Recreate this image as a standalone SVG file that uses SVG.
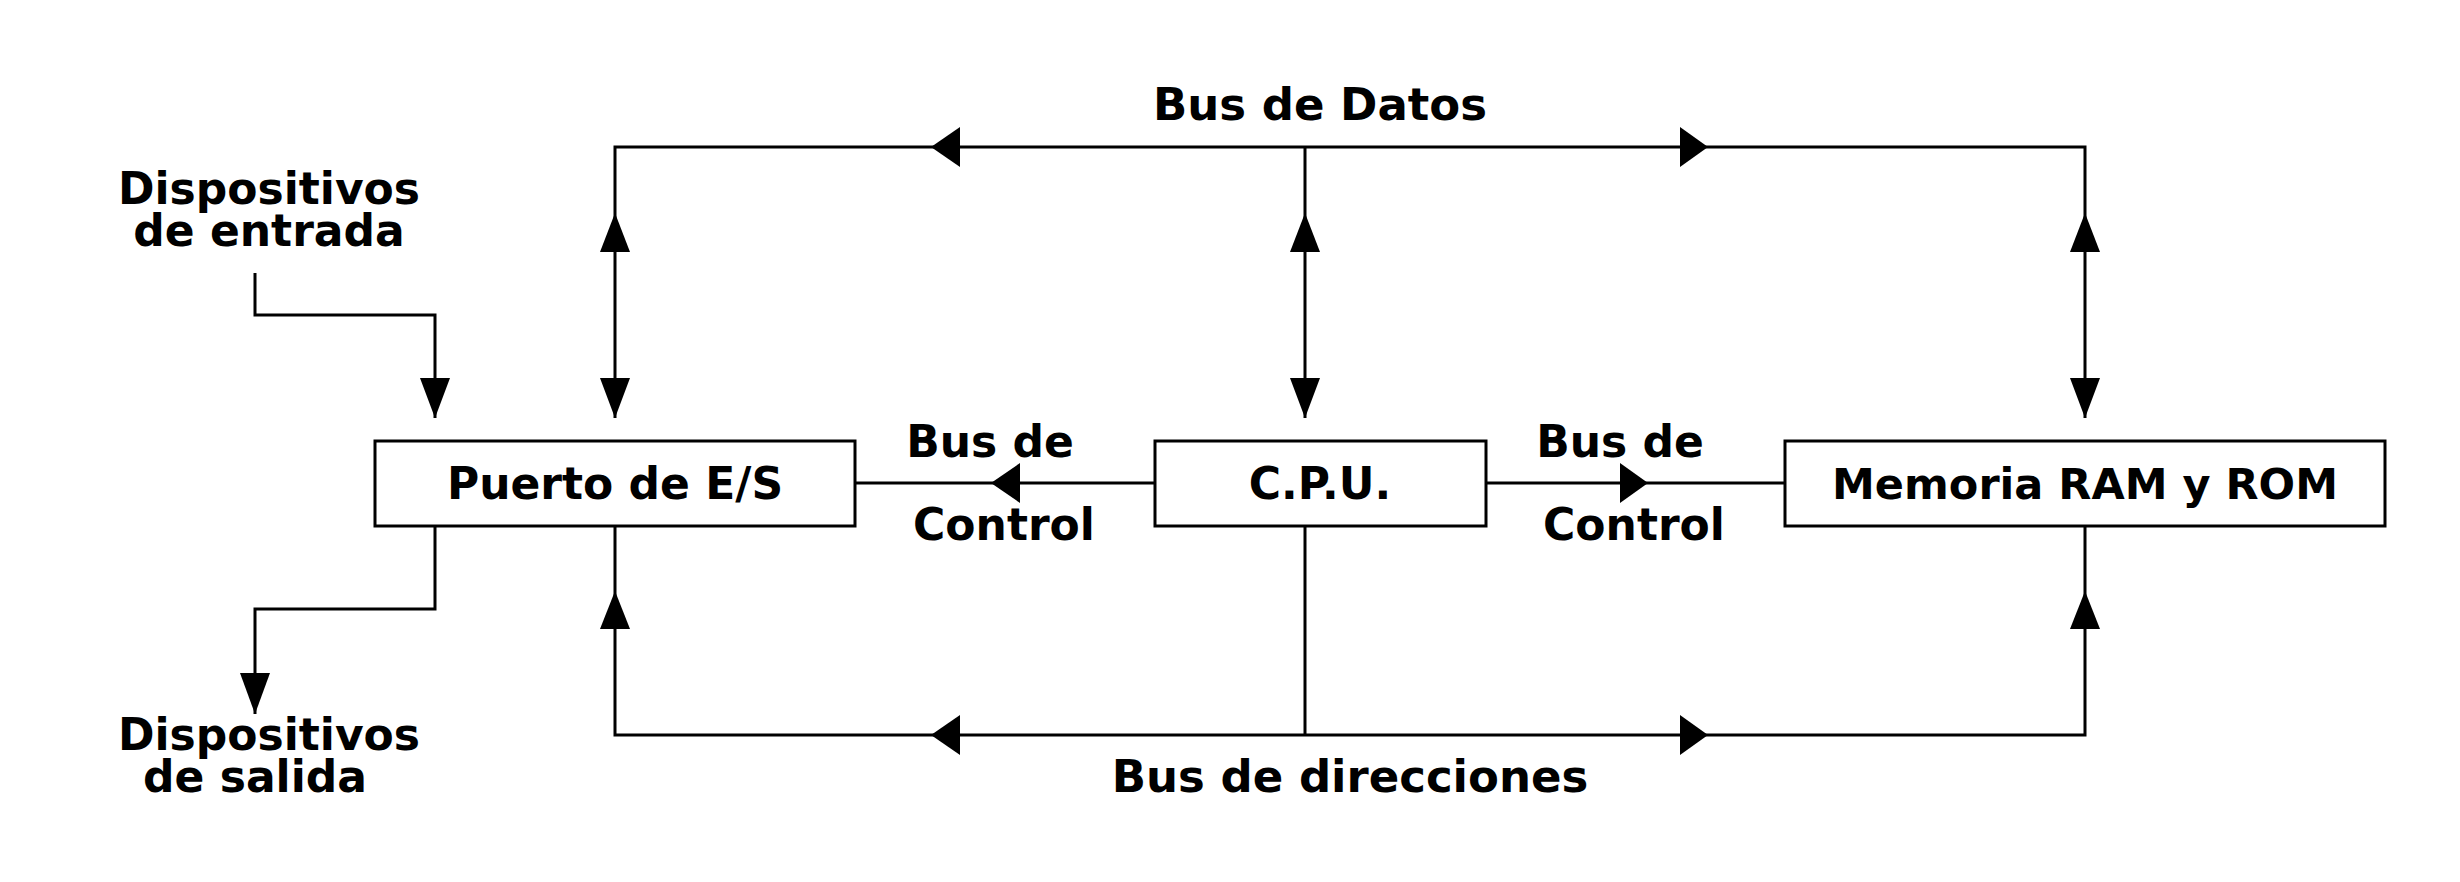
<svg xmlns="http://www.w3.org/2000/svg" width="2460" height="882" viewBox="0 0 2460 882">
<style>
.ln{fill:none;stroke:#000;stroke-width:3;stroke-linejoin:miter}
.box{fill:#fff;stroke:#000;stroke-width:3}
.ah{fill:#000;stroke:none}
text{font-family:"DejaVu Sans",sans-serif;font-weight:bold;font-size:44px;fill:#000;text-anchor:middle}
.sm{font-size:43px}
.lg{font-size:45px}
</style>
<rect width="2460" height="882" fill="#fff"/>
<g id="connectors">
  <polyline class="ln" points="615,418 615,147 2085,147 2085,418"/>
  <line class="ln" x1="1305" y1="147" x2="1305" y2="418"/>
  <polyline class="ln" points="615,526 615,735 2085,735 2085,526"/>
  <line class="ln" x1="1305" y1="526" x2="1305" y2="735"/>
  <line class="ln" x1="855" y1="483" x2="1155" y2="483"/>
  <line class="ln" x1="1486" y1="483" x2="1785" y2="483"/>
  <polyline class="ln" points="255,273 255,315 435,315 435,418"/>
  <polyline class="ln" points="435,526 435,609 255,609 255,714"/>
  <polygon class="ah" points="931,147 960,127 960,167"/>
  <polygon class="ah" points="1708,147 1680,127 1680,167"/>
  <polygon class="ah" points="931,735 960,715 960,755"/>
  <polygon class="ah" points="1708,735 1680,715 1680,755"/>
  <polygon class="ah" points="991,483 1020,463 1020,503"/>
  <polygon class="ah" points="1648,483 1620,463 1620,503"/>
  <polygon class="ah" points="615,213 600,252 630,252"/>
  <polygon class="ah" points="615,418 600,378 630,378"/>
  <polygon class="ah" points="1305,213 1290,252 1320,252"/>
  <polygon class="ah" points="1305,418 1290,378 1320,378"/>
  <polygon class="ah" points="2085,213 2070,252 2100,252"/>
  <polygon class="ah" points="2085,418 2070,378 2100,378"/>
  <polygon class="ah" points="615,591 600,629 630,629"/>
  <polygon class="ah" points="2085,591 2070,629 2100,629"/>
  <polygon class="ah" points="435,418 420,378 450,378"/>
  <polygon class="ah" points="255,714 240,673 270,673"/>
</g>
<g id="puerto">
  <rect class="box" x="375" y="441" width="480" height="85"/>
  <text x="615" y="499">Puerto de E/S</text>
</g>
<g id="cpu">
  <rect class="box" x="1155" y="441" width="331" height="85"/>
  <text x="1320" y="499">C.P.U.</text>
</g>
<g id="memoria">
  <rect class="box" x="1785" y="441" width="600" height="85"/>
  <text class="sm" x="2085" y="499">Memoria RAM y ROM</text>
</g>
<g id="labels">
  <text x="269" y="204">Dispositivos</text>
  <text x="269" y="246">de entrada</text>
  <text x="269" y="750">Dispositivos</text>
  <text x="255" y="792">de salida</text>
  <text class="lg" x="1320" y="120">Bus de Datos</text>
  <text class="lg" x="1350" y="792">Bus de direcciones</text>
  <text x="990" y="457">Bus de</text>
  <text x="1004" y="540">Control</text>
  <text x="1620" y="457">Bus de</text>
  <text x="1634" y="540">Control</text>
</g>
</svg>
